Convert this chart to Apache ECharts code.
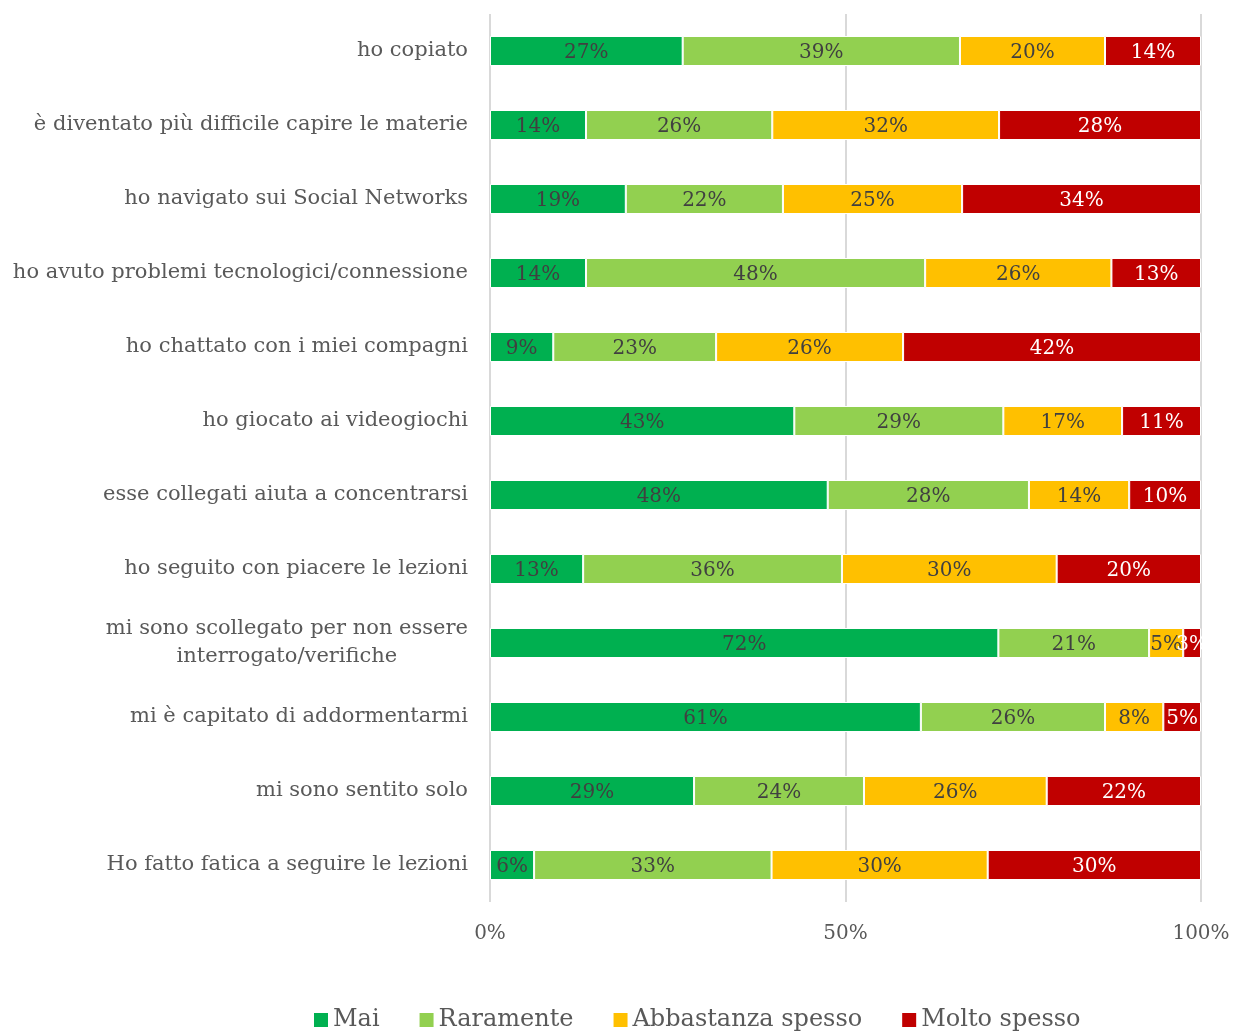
<!DOCTYPE html>
<html>
<head>
<meta charset="utf-8">
<script src="https://cdn.jsdelivr.net/npm/echarts@6/dist/echarts.min.js"></script>
<style>
html,body{margin:0;padding:0;background:#fff;}
#chart{width:1233px;height:1035px;}
</style>
</head>
<body>
<div id="chart"></div>
<script>
const categories = [
  "ho copiato",
  "è diventato più difficile capire le materie",
  "ho navigato sui Social Networks",
  "ho avuto problemi tecnologici/connessione",
  "ho chattato con i miei compagni",
  "ho giocato ai videogiochi",
  "esse collegati aiuta a concentrarsi",
  "ho seguito con piacere le lezioni",
  "mi sono scollegato per non essere\ninterrogato/verifiche",
  "mi è capitato di addormentarmi",
  "mi sono sentito solo",
  "Ho fatto fatica a seguire le lezioni"
];
const seriesNames = ["Mai", "Raramente", "Abbastanza spesso", "Molto spesso"];
const mai        = [27.1, 13.5, 19.1, 13.5,  8.9, 42.8, 47.5, 13.1, 71.5, 60.6, 28.7,  6.2];
const raramente  = [39.0, 26.2, 22.1, 47.7, 22.9, 29.4, 28.3, 36.4, 21.2, 25.9, 23.9, 33.4];
const abbastanza = [20.4, 31.9, 25.2, 26.2, 26.3, 16.7, 14.1, 30.2,  4.8,  8.2, 25.7, 30.4];
const moltoSpesso= [13.5, 28.4, 33.6, 12.6, 41.9, 11.1, 10.1, 20.3,  2.5,  5.3, 21.7, 30.0];
const xTicks = [0, 50, 100];

const colors = ["#00B050", "#92D050", "#FFC000", "#C00000"];
const labelColors = ["#404040", "#404040", "#404040", "#ffffff"];
const FONT = "'DejaVu Serif', 'Liberation Serif', serif";
const allData = [mai, raramente, abbastanza, moltoSpesso];

const chart = echarts.init(document.getElementById('chart'));
chart.setOption({
  animation: false,
  color: colors,
  textStyle: { fontFamily: FONT },
  grid: { left: 490, right: 32, top: 14, bottom: 133, containLabel: false },
  xAxis: {
    type: 'value', min: xTicks[0], max: xTicks[xTicks.length - 1], interval: 50,
    axisLine: { show: false }, axisTick: { show: false },
    splitLine: { show: true, lineStyle: { color: '#d9d9d9', width: 2 } },
    axisLabel: { formatter: '{value}%', color: '#595959', fontSize: 20, fontFamily: FONT, margin: 22 }
  },
  yAxis: {
    type: 'category', inverse: true, data: categories,
    axisLine: { show: false }, axisTick: { show: false },
    axisLabel: {
      color: '#595959', fontSize: 21, fontFamily: FONT, margin: 22, lineHeight: 28,
      formatter: function (v) {
        if (v.indexOf('\n') >= 0) {
          return v.split('\n').map(s => '{c|' + s + '}').join('\n');
        }
        return v;
      },
      rich: { c: { align: 'center', color: '#595959', fontSize: 21, fontFamily: FONT, lineHeight: 28 } }
    }
  },
  legend: {
    top: 1003, left: 309, itemWidth: 14, itemHeight: 14, itemGap: 40, itemStyle: { borderWidth: 0 },
    icon: 'rect',
    textStyle: { color: '#595959', fontSize: 24, fontFamily: FONT },
    data: seriesNames
  },
  series: seriesNames.map((name, i) => ({
    name: name, type: 'bar', stack: 'total', barWidth: 30,
    data: allData[i],
    itemStyle: { color: colors[i], borderColor: '#ffffff', borderWidth: 1 },
    label: {
      show: true, position: 'inside', color: labelColors[i], fontSize: 20, fontFamily: FONT,
      offset: [0, 2],
      formatter: p => Math.round(p.value) + '%'
    }
  }))
});
</script>
</body>
</html>
